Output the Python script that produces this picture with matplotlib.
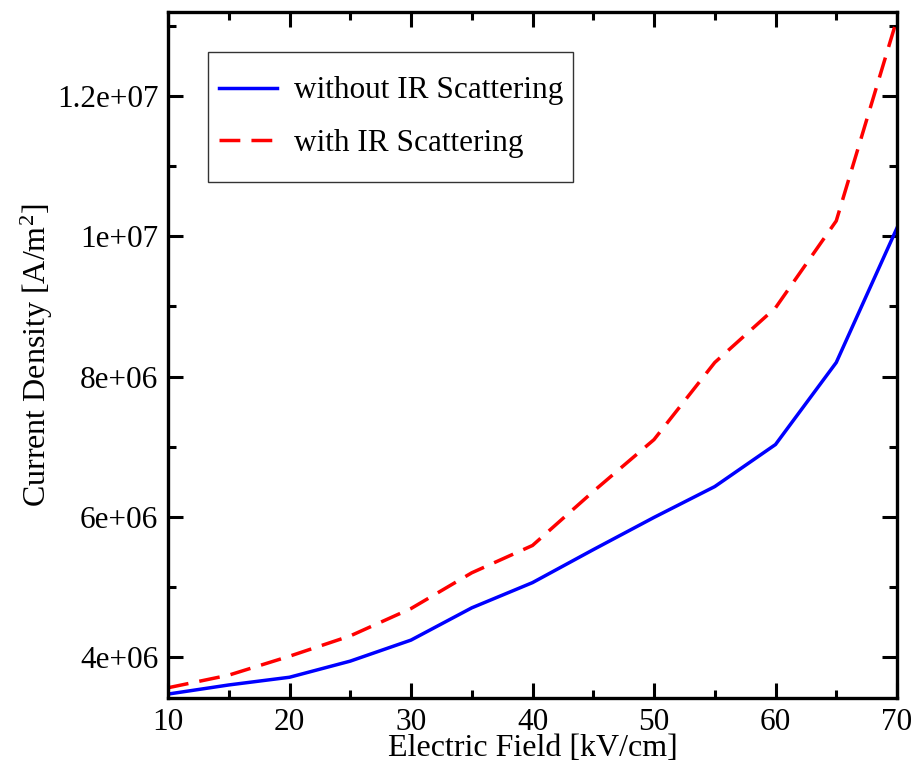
import matplotlib
matplotlib.use("Agg")
import matplotlib.pyplot as plt
from matplotlib.patches import Rectangle
from matplotlib.ticker import MultipleLocator

plt.rcParams['font.family'] = ['Liberation Serif', 'DejaVu Serif']
plt.rcParams['mathtext.fontset'] = 'custom'
plt.rcParams['mathtext.rm'] = 'Liberation Serif'
plt.rcParams['mathtext.it'] = 'Liberation Serif:italic'

field = [10, 15, 20, 25, 30, 35, 40, 45, 50, 55, 60, 65, 70]
without_ir = [3.47e6, 3.60e6, 3.71e6, 3.94e6, 4.24e6, 4.70e6, 5.06e6,
              5.53e6, 5.99e6, 6.43e6, 7.03e6, 8.20e6, 10.12e6]
with_ir = [3.56e6, 3.74e6, 4.01e6, 4.30e6, 4.69e6, 5.20e6, 5.59e6,
           6.36e6, 7.10e6, 8.20e6, 8.98e6, 10.22e6, 13.1e6]
ytick_vals = [4e6, 6e6, 8e6, 10e6, 12e6]
ytick_labels = ["4e+06", "6e+06", "8e+06", "1e+07", "1.2e+07"]
xtick_vals = [10, 20, 30, 40, 50, 60, 70]

fig = plt.figure(figsize=(9.14, 7.65), dpi=100)
ax = fig.add_axes([168/914, 1-698/765, (897-168)/914, (698-12)/765])

ax.plot(field, without_ir, color='#0000ff', lw=2.5, label='without IR Scattering')
ax.plot(field, with_ir, color='#ff0000', lw=2.5, dashes=(6.0, 3.2), label='with IR Scattering')

ax.set_xlim(10, 70)
ax.set_ylim(3.414e6, 13.2e6)
ax.set_xticks(xtick_vals)
ax.set_xticklabels([str(v) for v in xtick_vals])
ax.set_yticks(ytick_vals)
ax.set_yticklabels(ytick_labels)
ax.xaxis.set_minor_locator(MultipleLocator(5))
ax.yaxis.set_minor_locator(MultipleLocator(1e6))
ax.tick_params(which='both', direction='in', top=True, right=True, width=2.2)
ax.tick_params(which='major', length=11, labelsize=22.5, pad=7)
ax.tick_params(which='minor', length=6)
for s in ax.spines.values():
    s.set_linewidth(2.4)

ax.set_xlabel('Electric Field [kV/cm]', fontsize=23, labelpad=-2)
ax.set_ylabel('Current Density [A/m$^2$]', fontsize=23, labelpad=1)

leg = ax.legend(loc='upper left', bbox_to_anchor=(0.070, 0.906), borderaxespad=0,
                frameon=False, fontsize=22.5, handlelength=1.85, handletextpad=0.55,
                labelspacing=0.75, borderpad=0)
ax.add_patch(Rectangle(((208-168)/729, (698-182)/686), (573-208)/729, (182-52)/686,
                       transform=ax.transAxes, fill=False, edgecolor='#333333',
                       lw=1.0, zorder=5))

fig.savefig('out.png', dpi=100)
